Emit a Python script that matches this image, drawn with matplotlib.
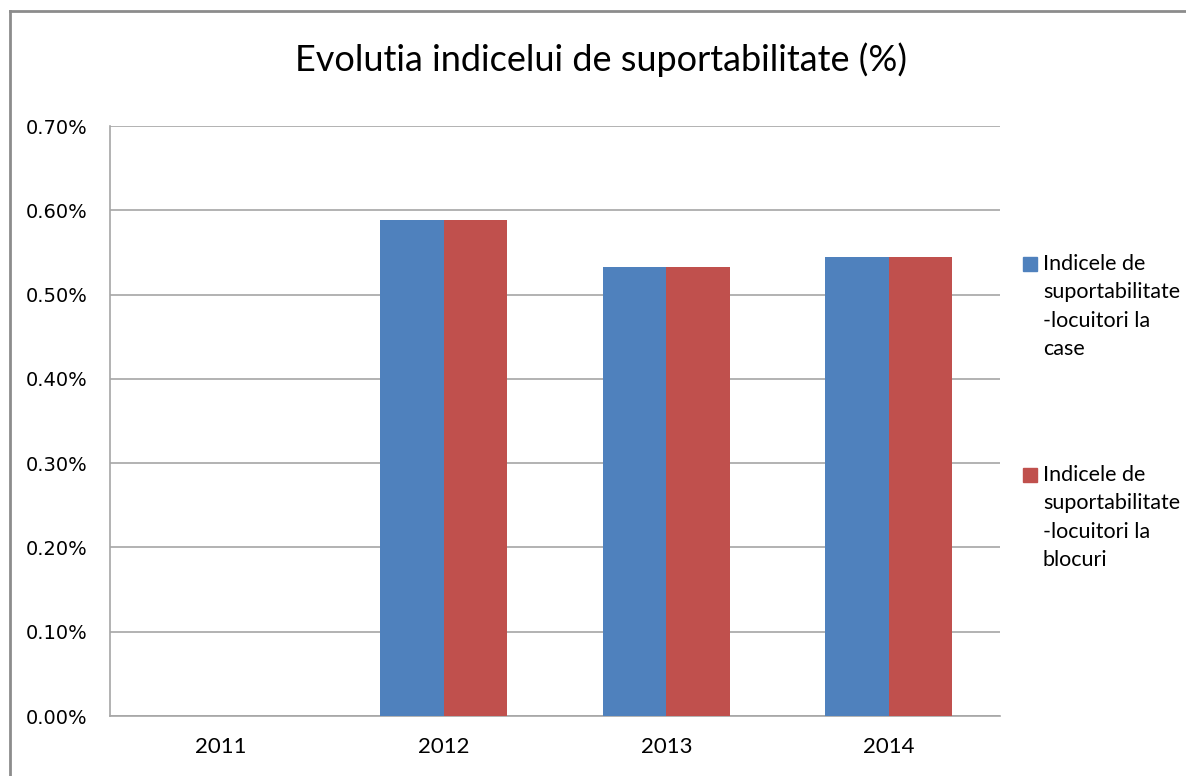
import matplotlib.pyplot as plt
from matplotlib.lines import Line2D
from matplotlib.patches import Rectangle
from matplotlib.ticker import FuncFormatter
import numpy as np

years = ["2011", "2012", "2013", "2014"]
case_vals = [0.0, 0.589, 0.533, 0.545]
bloc_vals = [0.0, 0.589, 0.533, 0.545]
series_labels = ["Indicele de\nsuportabilitate\n-locuitori la\ncase",
                 "Indicele de\nsuportabilitate\n-locuitori la\nblocuri"]
colours = ["#4F81BD", "#C0504D"]

W, H = 1186, 776
fig = plt.figure(figsize=(W / 100, H / 100), dpi=100)
fig.patch.set_facecolor("white")

# outer chart frame (top and left edges visible)
frame_col = "#8c8c8c"
fig.add_artist(Line2D([10 / W, 10 / W], [0, 1 - 10.5 / H], color=frame_col, lw=2))
fig.add_artist(Line2D([10 / W, 1], [1 - 10.5 / H, 1 - 10.5 / H], color=frame_col, lw=2))

ax = fig.add_axes([110 / W, 60 / H, 890 / W, 590 / H])
x = np.arange(len(years))
width = 0.285
ax.bar(x - width / 2, case_vals, width, color=colours[0], zorder=3)
ax.bar(x + width / 2, bloc_vals, width, color=colours[1], zorder=3)

ax.set_xlim(-0.5, len(years) - 0.5)
ax.set_ylim(0, 0.7)
ax.set_yticks(np.arange(0, 0.71, 0.1))
ax.yaxis.set_major_formatter(FuncFormatter(lambda v, p: f"{v:.2f}%"))
ax.set_xticks(x)
ax.set_xticklabels(years, fontfamily="Lato", fontsize=16)
ax.tick_params(axis="y", length=0, pad=16, labelsize=14)
ax.tick_params(axis="x", length=0, pad=15)
ax.grid(axis="y", color="#a6a6a6", lw=1.2, zorder=0)
for s in ["top", "right"]:
    ax.spines[s].set_visible(False)
for s in ["left", "bottom"]:
    ax.spines[s].set_color("#a6a6a6")
    ax.spines[s].set_linewidth(1.2)

fig.text(601 / W, 1 - 60 / H, "Evolutia indicelui de suportabilitate (%)",
         ha="center", va="center", fontfamily="Lato", fontsize=26)

# legend drawn by hand so the swatch sits on the first text line
for i, (lab, col) in enumerate(zip(series_labels, colours)):
    top = 257 + i * 211
    fig.add_artist(Rectangle((1023 / W, 1 - (top + 14) / H), 14 / W, 14 / H,
                             color=col, transform=fig.transFigure))
    fig.text(1043 / W, 1 - (top - 3) / H, lab, ha="left", va="top",
             fontfamily="Lato", fontsize=15.5, linespacing=1.52)

fig.savefig("out.png", dpi=100)
